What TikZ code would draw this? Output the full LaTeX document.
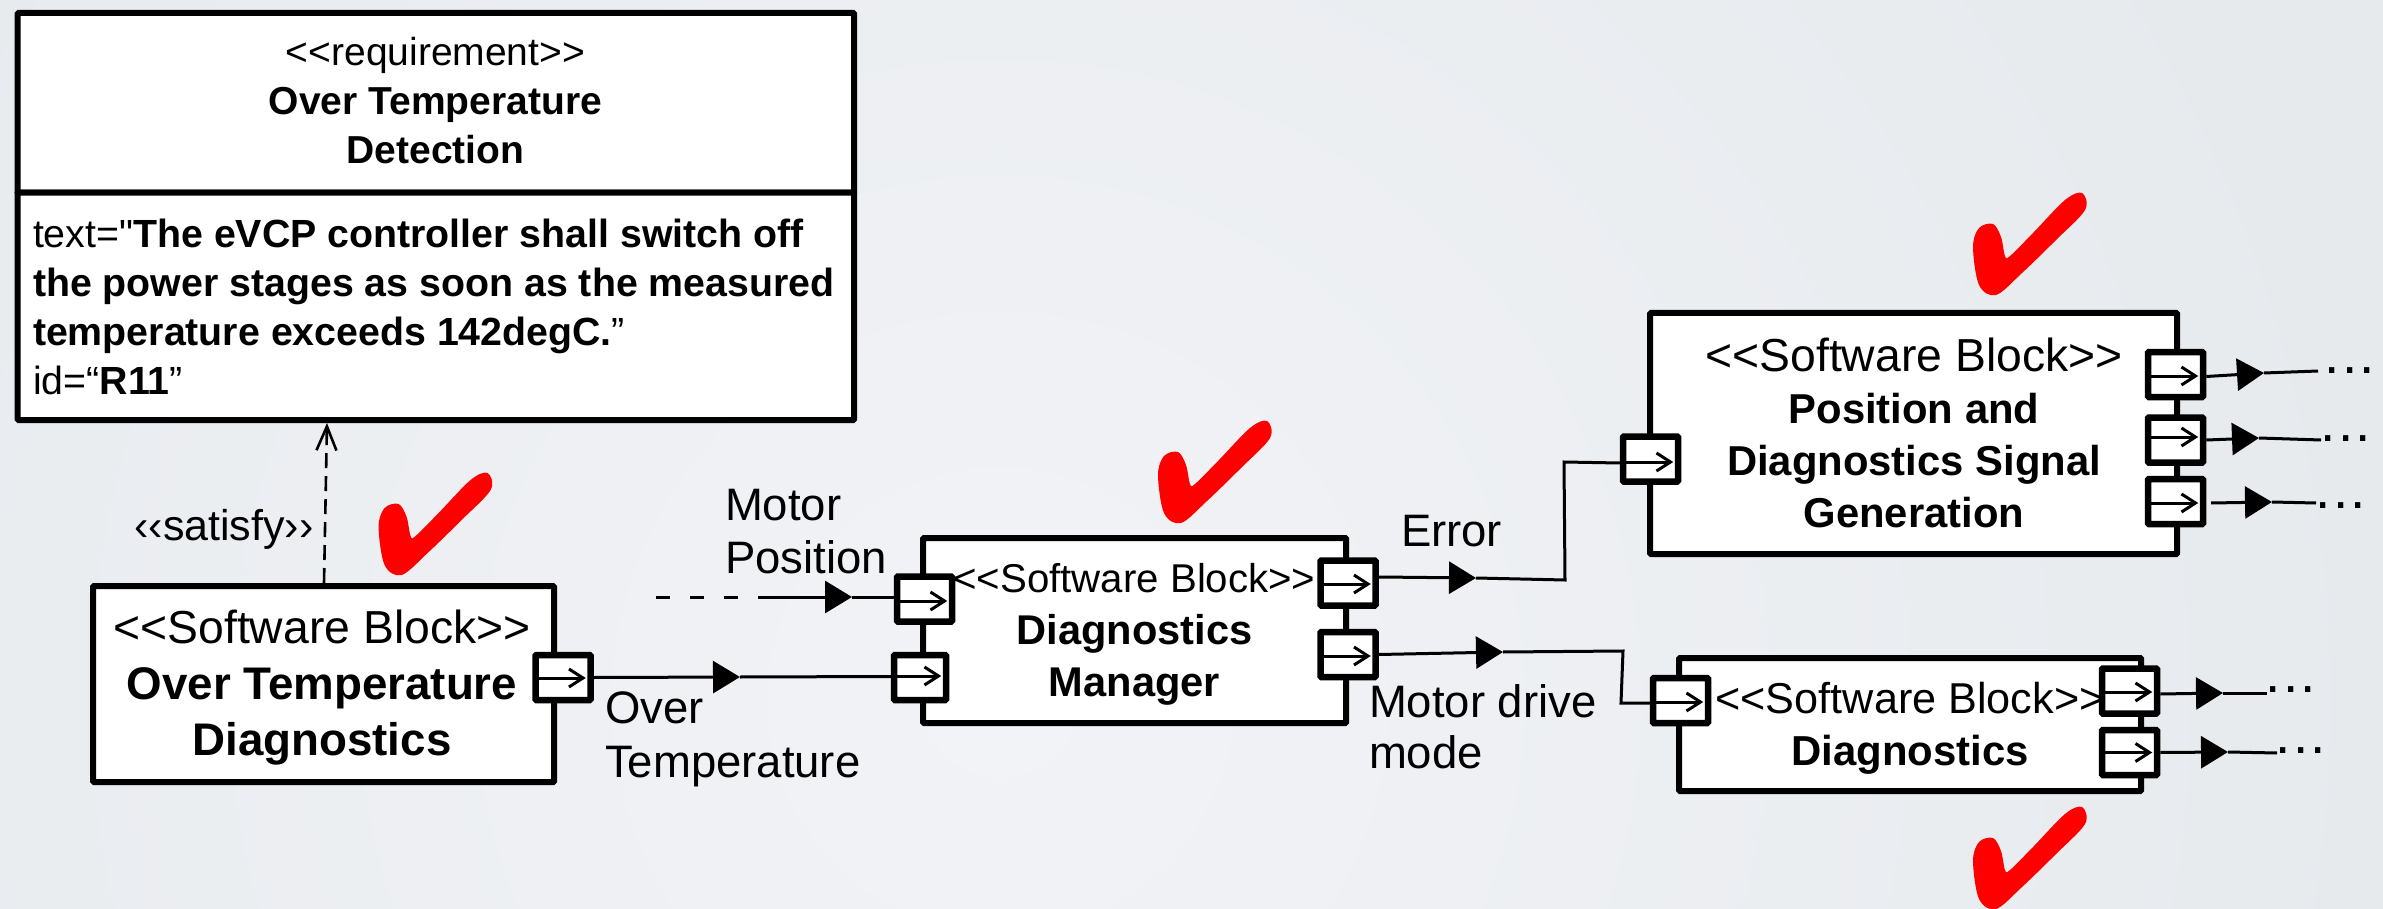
\documentclass[tikz,border=0pt]{standalone}
\usepackage{fontspec}
\setmainfont[Ligatures=TeXOff]{Liberation Sans}
\usetikzlibrary{arrows.meta}
\definecolor{bgin}{HTML}{F2F3F7}
\definecolor{bgout}{HTML}{E6EAED}
\newcommand{\fs}[2]{\fontsize{#1}{#2}\selectfont}
\newcommand{\lguil}{<\kern0pt<}
\newcommand{\rguil}{>\kern0pt>}
\newcommand{\dotdot}{\fs{55}{55}.\kern2.7pt.\kern2.7pt.}
\newcommand{\portarrow}[2]{\draw[portline] ([xshift=3pt,yshift=#2pt]#1.west) -- ([xshift=-8pt,yshift=#2pt]#1.east);}
\tikzset{
  x=1pt,y=-1pt,
  blockbox/.style={draw=black,fill=white,line width=6pt,rectangle,inner sep=0pt,rounded corners=1pt},
  portbox/.style={draw=black,fill=white,line width=6.5pt,rectangle,inner sep=0pt,minimum width=55pt,minimum height=45pt,rounded corners=1pt},
  lbl/.style={inner sep=0pt,outer sep=0pt,text=black,align=center,anchor=base},
  lblleft/.style={inner sep=0pt,outer sep=0pt,text=black,align=left,anchor=base west},
  wire/.style={draw=black,line width=3pt},
  wiretip/.style={wire,-{Triangle[length=27pt,width=32pt]}},
  portline/.style={draw=black,line width=3pt,-{Straight Barb[length=14pt,width=18pt,line width=3pt]}},
  satisfyline/.style={draw=black,line width=2.6pt,dash pattern=on 15pt off 8pt,-{Straight Barb[length=24pt,width=20pt,line width=2.6pt]}},
  dashwire/.style={draw=black,line width=3pt,dash pattern=on 14pt off 20pt},
  redcheck/.pic={\fill[red] plot[smooth cycle,tension=.55] coordinates {(86,-102) (89,-85) (60,-55) (26,-22) (0,0) (-17,-10) (-23,-48) (-17,-67) (-3,-71) (5,-58) (9,-39) (14,-39) (37,-62) (69,-95)};}
}
\begin{document}
\begin{tikzpicture}
\useasboundingbox (0,0) rectangle (2383,909);
\clip (0,0) rectangle (2383,909);
\shade[inner color=bgin,outer color=bgout] (-400,-700) rectangle (2400,2100);

% blocks
\node[blockbox,minimum width=836.5pt,minimum height=179.7pt] (reqHead) at (435.75,102.85) {};
\node[blockbox,minimum width=836.5pt,minimum height=227.3pt] (reqBody) at (435.75,306.35) {};
\node[blockbox,minimum width=461pt,minimum height=196pt] (ot) at (323.5,684) {};
\node[blockbox,minimum width=423pt,minimum height=185pt] (dm) at (1134.5,630.5) {};
\node[blockbox,minimum width=527pt,minimum height=241pt] (pos) at (1913.5,433.5) {};
\node[blockbox,minimum width=462pt,minimum height=133pt] (diag) at (1910,724.5) {};

% block texts
\node[lbl,font=\fs{39}{49}] (reqTitle) at (435.5,164) {\lguil requirement\rguil\\\bfseries Over Temperature\\\bfseries Detection};
\node[lblleft,font=\fs{39.3}{49}] (reqText) at (33,394) {text="\textbf{The eVCP controller shall switch off}\\\textbf{the power stages as soon as the measured}\\\textbf{temperature exceeds 142degC.}”\\id=“\textbf{R11}”};
\node[lbl,font=\fs{45.7}{56}] (otTitle) at (322,755) {\fs{46.3}{56}\lguil Software Block\rguil\\\bfseries Over Temperature\\\bfseries Diagnostics};
\node[lbl,font=\fs{41.6}{52}] (dmTitle) at (1134.5,696) {\fs{40.2}{52}\lguil Software Block\rguil\\\bfseries Diagnostics\\\bfseries Manager};
\node[lbl,font=\fs{41.8}{52}] (posTitle) at (1914,527) {\fs{46.3}{52}\lguil Software Block\rguil\\\bfseries Position and\\\bfseries Diagnostics Signal\\\bfseries Generation};
\node[lbl,font=\fs{41.9}{52}] (diagTitle) at (1910,765) {\fs{43.2}{52}\lguil Software Block\rguil\\\bfseries Diagnostics};

% ports
\node[portbox] (otOut) at (563,677.5) {};
\node[portbox] (dmIn1) at (924.5,599) {};
\node[portbox,minimum width=52pt] (dmIn2) at (920,677.5) {};
\node[portbox] (dmOut1) at (1348,583) {};
\node[portbox] (dmOut2) at (1348,654.5) {};
\node[portbox] (posIn) at (1650.5,459) {};
\node[portbox] (posOut1) at (2175.5,374.5) {};
\node[portbox] (posOut2) at (2175.5,440) {};
\node[portbox] (posOut3) at (2175.5,501.5) {};
\node[portbox] (diagIn) at (1680.5,700.5) {};
\node[portbox] (diagOut1) at (2129.5,691) {};
\node[portbox] (diagOut2) at (2129.5,752.5) {};

\portarrow{otOut}{-0.5}
\portarrow{dmIn1}{-2}
\portarrow{dmIn2}{1.5}
\portarrow{dmOut1}{-1}
\portarrow{dmOut2}{-1.5}
\portarrow{posIn}{-3}
\portarrow{posOut1}{-1.5}
\portarrow{posOut2}{3}
\portarrow{posOut3}{-1.5}
\portarrow{diagIn}{-1.5}
\portarrow{diagOut1}{-1}
\portarrow{diagOut2}{0}

% satisfy link
\draw[satisfyline] ([xshift=0.5pt]ot.north) -- ([xshift=-108.75pt]reqBody.south);
\node[lbl,font=\fs{43}{43}] (satisfy) at (224,540) {‹‹satisfy››};

% connectors
\coordinate (tOt) at (740,677);
\draw[wiretip] (otOut.east) -- (tOt);
\draw[wire] (tOt) -- ([yshift=1pt]dmIn2.west);

\coordinate (mpStart) at (656,597);
\coordinate (mpMid) at (763,597);
\coordinate (tMp) at (852,597);
\draw[dashwire] (mpStart) -- (mpMid);
\draw[wiretip] (mpMid) -- (tMp);
\draw[wire] (tMp) -- ([yshift=2pt]dmIn1.west);

\coordinate (tErr) at (1476,578);
\coordinate (errA) at (1565,580);
\coordinate (errB) at (1564,462);
\draw[wiretip] ([yshift=6pt]dmOut1.east) -- (tErr);
\draw[wire,line join=miter] (tErr) -- (errA) -- (errB) -- ([yshift=-4pt]posIn.west);

\coordinate (tDrv) at (1503,652);
\coordinate (drvA) at (1623,651);
\coordinate (drvB) at (1621,703);
\draw[wiretip] (dmOut2.east) -- (tDrv);
\draw[wire] (tDrv) -- (drvA) -- (drvB) -- ([yshift=-2.5pt]diagIn.west);

\coordinate (tP1) at (2264,373);
\coordinate (eP1) at (2318,371);
\draw[wiretip] ([yshift=-2pt]posOut1.east) -- (tP1);
\draw[wire] (tP1) -- (eP1);
\coordinate (tP2) at (2259,438);
\coordinate (eP2) at (2321,440);
\draw[wiretip] (posOut2.east) -- (tP2);
\draw[wire] (tP2) -- (eP2);
\coordinate (sP3) at (2211,503);
\coordinate (tP3) at (2272,502);
\coordinate (eP3) at (2316,503);
\draw[wiretip] (sP3) -- (tP3);
\draw[wire] (tP3) -- (eP3);
\coordinate (tD1) at (2223,693);
\coordinate (eD1) at (2267,693);
\draw[wiretip] ([yshift=-3pt]diagOut1.east) -- (tD1);
\draw[wire] (tD1) -- (eD1);
\coordinate (tD2) at (2228,752);
\coordinate (eD2) at (2277,753);
\draw[wiretip] (diagOut2.east) -- (tD2);
\draw[wire] (tD2) -- (eD2);

% trailing dots
\node[lblleft] (dotsP1) at (2324,373) {\dotdot};
\node[lblleft] (dotsP2) at (2320,441) {\dotdot};
\node[lblleft] (dotsP3) at (2315,508) {\dotdot};
\node[lblleft] (dotsD1) at (2265,692) {\dotdot};
\node[lblleft] (dotsD2) at (2275,753) {\dotdot};

% signal labels
\node[lblleft,font=\fs{45.5}{53}] (lblMotorPos) at (725,573) {Motor\\Position};
\node[lblleft,font=\fs{45.5}{54}] (lblOverTemp) at (605,777) {Over\\Temperature};
\node[lblleft,font=\fs{45.5}{53}] (lblError) at (1401,546) {Error};
\node[lblleft,font=\fs{45.5}{51}] (lblDrive) at (1369,768) {Motor drive\\mode};

% check marks
\pic at (401.6,575) {redcheck};
\pic at (1181,523) {redcheck};
\pic at (1996,295) {redcheck};
\pic at (1996,909) {redcheck};
\end{tikzpicture}
\end{document}
